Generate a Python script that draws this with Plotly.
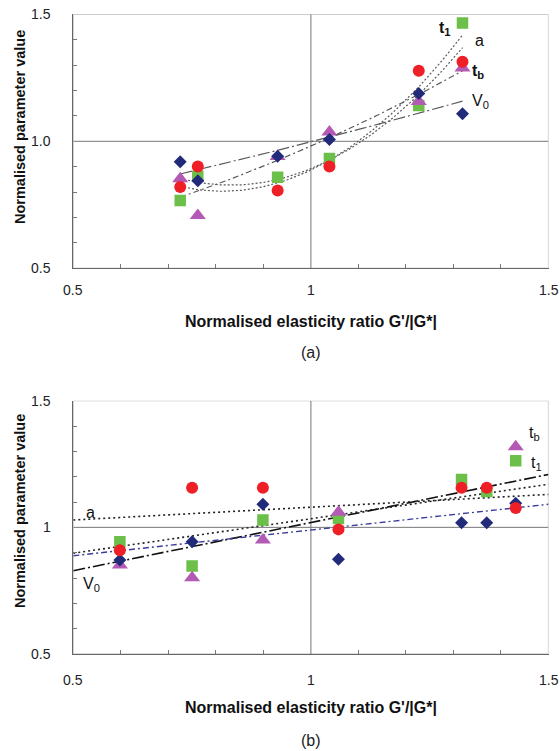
import numpy as np
import plotly.graph_objects as go

W, H = 560, 751

# ---------------- data: panel (a) ----------------
xa = [0.725, 0.762, 0.930, 1.039, 1.227, 1.319]
a_V0 = [0.919, 0.845, 0.941, 1.007, 1.188, 1.108]
a_a = [0.820, 0.901, 0.806, 0.901, 1.278, 1.313]
a_t1 = [0.767, 0.862, 0.858, 0.932, 1.141, 1.466]
a_tb = [0.853, 0.708, 0.940, 1.037, 1.157, 1.289]

# ---------------- data: panel (b) ----------------
xb = [0.598, 0.750, 0.899, 1.058, 1.317, 1.370, 1.431]
b_V0 = [0.871, 0.943, 1.091, 0.874, 1.018, 1.018, 1.095]
b_a = [0.910, 1.156, 1.156, 0.992, 1.156, 1.156, 1.076]
b_t1 = [0.943, 0.847, 1.029, 1.035, 1.189, 1.142, 1.263]
b_tb = [0.851, 0.801, 0.950, 1.060, None, None, 1.318]

# linear trend lines of panel (b), values read at x = 0.5 and x = 1.5
trend_x = [0.5, 1.5]
tr_b_a = [1.029, 1.130]
tr_b_t1 = [0.898, 1.170]
tr_b_V0 = [0.829, 1.209]
tr_b_tb = [0.888, 1.091]

# tick labels
tick_vals = [0.5, 1.0, 1.5]
xtick_text = ["0.5", "1", "1.5"]
ytick_text_a = ["0.5", "1.0", "1.5"]
ytick_text_b = ["0.5", "1", "1.5"]

# styles
C_V0 = "#222a7a"
C_A = "#ee1f26"
C_T1 = "#6cbf48"
C_TB = "#b35ab5"
FONT = "Liberation Sans, Arial, sans-serif"

fig = go.Figure()


def quad_fit(x, y):
    c = np.polyfit(x, y, 2)
    xs = np.linspace(min(x), max(x), 80)
    return xs, np.polyval(c, xs)


# ---- panel (a) trend lines (2nd-order fits of the data) ----
for ys, dash in [(a_V0, "12px,3px,2px,3px"), (a_tb, "6px,3px,2px,3px"),
                 (a_a, "2px,2px"), (a_t1, "2px,2px")]:
    xs, yf = quad_fit(xa, ys)
    fig.add_trace(go.Scatter(x=xs, y=yf, mode="lines", xaxis="x", yaxis="y",
                             line=dict(color="#5a5a5a", width=1.2, dash=dash),
                             hoverinfo="skip"))

# ---- panel (b) trend lines ----
for ys, col, dash, w in [(tr_b_a, "#222222", "2px,3px", 1.6),
                         (tr_b_t1, "#222222", "2px,3px", 1.6),
                         (tr_b_V0, "#111111", "12px,3px,2px,3px", 1.6),
                         (tr_b_tb, "#3c3c9c", "6px,3px,2px,3px", 1.4)]:
    fig.add_trace(go.Scatter(x=trend_x, y=ys, mode="lines", xaxis="x2", yaxis="y2",
                             line=dict(color=col, width=w, dash=dash), hoverinfo="skip"))


# ---- markers ----
def markers(x, y, xa_, ya_):
    fig.add_trace(go.Scatter(x=x, y=y[3], mode="markers", xaxis=xa_, yaxis=ya_,
                             marker=dict(symbol="square", size=11.5, color=C_T1)))
    fig.add_trace(go.Scatter(x=x, y=y[2], mode="markers", xaxis=xa_, yaxis=ya_,
                             marker=dict(symbol="triangle-up", size=14, color=C_TB)))
    fig.add_trace(go.Scatter(x=x, y=y[0], mode="markers", xaxis=xa_, yaxis=ya_,
                             marker=dict(symbol="diamond", size=10, color=C_V0)))
    fig.add_trace(go.Scatter(x=x, y=y[1], mode="markers", xaxis=xa_, yaxis=ya_,
                             marker=dict(symbol="circle", size=12, color=C_A)))


markers(xa, [a_V0, a_a, a_tb, a_t1], "x", "y")
markers(xb, [b_V0, b_a, b_tb, b_t1], "x2", "y2")

X0, X1 = 73.3, 548.5
xdom = [X0 / W, X1 / W]
ydom_a = [1 - 268.3 / H, 1 - 14.3 / H]
ydom_b = [1 - 654.0 / H, 1 - 400.7 / H]

minor = dict(ticks="inside", dtick=0.1, tick0=0.5, ticklen=4, tickcolor="#777777",
             tickwidth=1, showgrid=False)


def axis_cfg(anchor, dom):
    return dict(domain=dom, anchor=anchor, range=[0.5, 1.5], tickmode="linear",
                tick0=0.5, dtick=0.5, ticks="", showgrid=False, zeroline=False,
                showline=True, linecolor="#666666", linewidth=1.2, minor=minor,
                showticklabels=False)


shapes = []
for xr, yr in [("x", "y"), ("x2", "y2")]:
    shapes.append(dict(type="rect", xref=xr, yref=yr, x0=0.5, x1=1.5, y0=0.5, y1=1.5,
                       line=dict(color="#bbbbbb", width=1.2), layer="below"))
    shapes.append(dict(type="line", xref=xr, yref=yr, x0=1, x1=1, y0=0.5, y1=1.5,
                       line=dict(color="#777777", width=1), layer="below"))
    shapes.append(dict(type="line", xref=xr, yref=yr, x0=0.5, x1=1.5, y0=1, y1=1,
                       line=dict(color="#777777", width=1), layer="below"))


def px(xp):
    return xp / W


def py(yp):
    return 1 - yp / H


ann = []
TICKF = dict(family=FONT, size=14, color="#222222")

# tick labels placed with the axes' own data coordinates
for xr, yr, ytxt, xlab_off in [("x", "y", ytick_text_a, 22), ("x2", "y2", ytick_text_b, 26)]:
    for v, t in zip(tick_vals, ytxt):
        ann.append(dict(x=px(53), y=v, xref="paper", yref=yr, text=t, showarrow=False,
                        xanchor="right", yanchor="middle", font=TICKF))
    for v, t in zip(tick_vals, xtick_text):
        ann.append(dict(x=v, y=0.5, xref=xr, yref=yr, text=t, showarrow=False,
                        xanchor="center", yanchor="middle", yshift=-xlab_off, font=TICKF))

xtitle = "<b>Normalised elasticity ratio G'/|G*|</b>"
ytitle = "<b>Normalised parameter value</b>"
for ty, yc in [(322, 127), (707, 511)]:
    ann.append(dict(x=px(311), y=py(ty), xref="paper", yref="paper", text=xtitle,
                    xanchor="center", yanchor="middle",
                    showarrow=False, font=dict(family=FONT, size=16, color="#111111")))
    ann.append(dict(x=px(20), y=py(yc), xref="paper", yref="paper", text=ytitle,
                    xanchor="center", yanchor="middle", textangle=-90, showarrow=False,
                    font=dict(family=FONT, size=14.5, color="#111111")))
for t, ty in [("(a)", 352), ("(b)", 740)]:
    ann.append(dict(x=px(311), y=py(ty), xref="paper", yref="paper", text=t,
                    xanchor="center", yanchor="middle",
                    showarrow=False, font=dict(family=FONT, size=16, color="#222222")))

labels = [
    ("<b>t<sub>1</sub></b>", 445, 28),
    ("a", 479, 40),
    ("<b>t<sub>b</sub></b>", 478, 72),
    ("V<sub>0</sub>", 480, 101),
    ("t<sub>b</sub>", 534, 434),
    ("t<sub>1</sub>", 536, 463),
    ("a", 90, 512),
    ("V<sub>0</sub>", 91, 584),
]
for t, x0, y0 in labels:
    ann.append(dict(x=px(x0), y=py(y0), xref="paper", yref="paper", text=t,
                    xanchor="center", yanchor="middle",
                    showarrow=False, font=dict(family=FONT, size=16, color="#111111")))

fig.update_layout(
    width=W, height=H, margin=dict(l=0, r=0, t=0, b=0),
    paper_bgcolor="white", plot_bgcolor="white", showlegend=False,
    xaxis=axis_cfg("y", xdom), yaxis=axis_cfg("x", ydom_a),
    xaxis2=axis_cfg("y2", xdom), yaxis2=axis_cfg("x2", ydom_b),
    shapes=shapes, annotations=ann,
)

fig.write_html("out.html", config={"displayModeBar": False},
               post_script="document.body.style.margin='0px';document.body.style.padding='0px';")
